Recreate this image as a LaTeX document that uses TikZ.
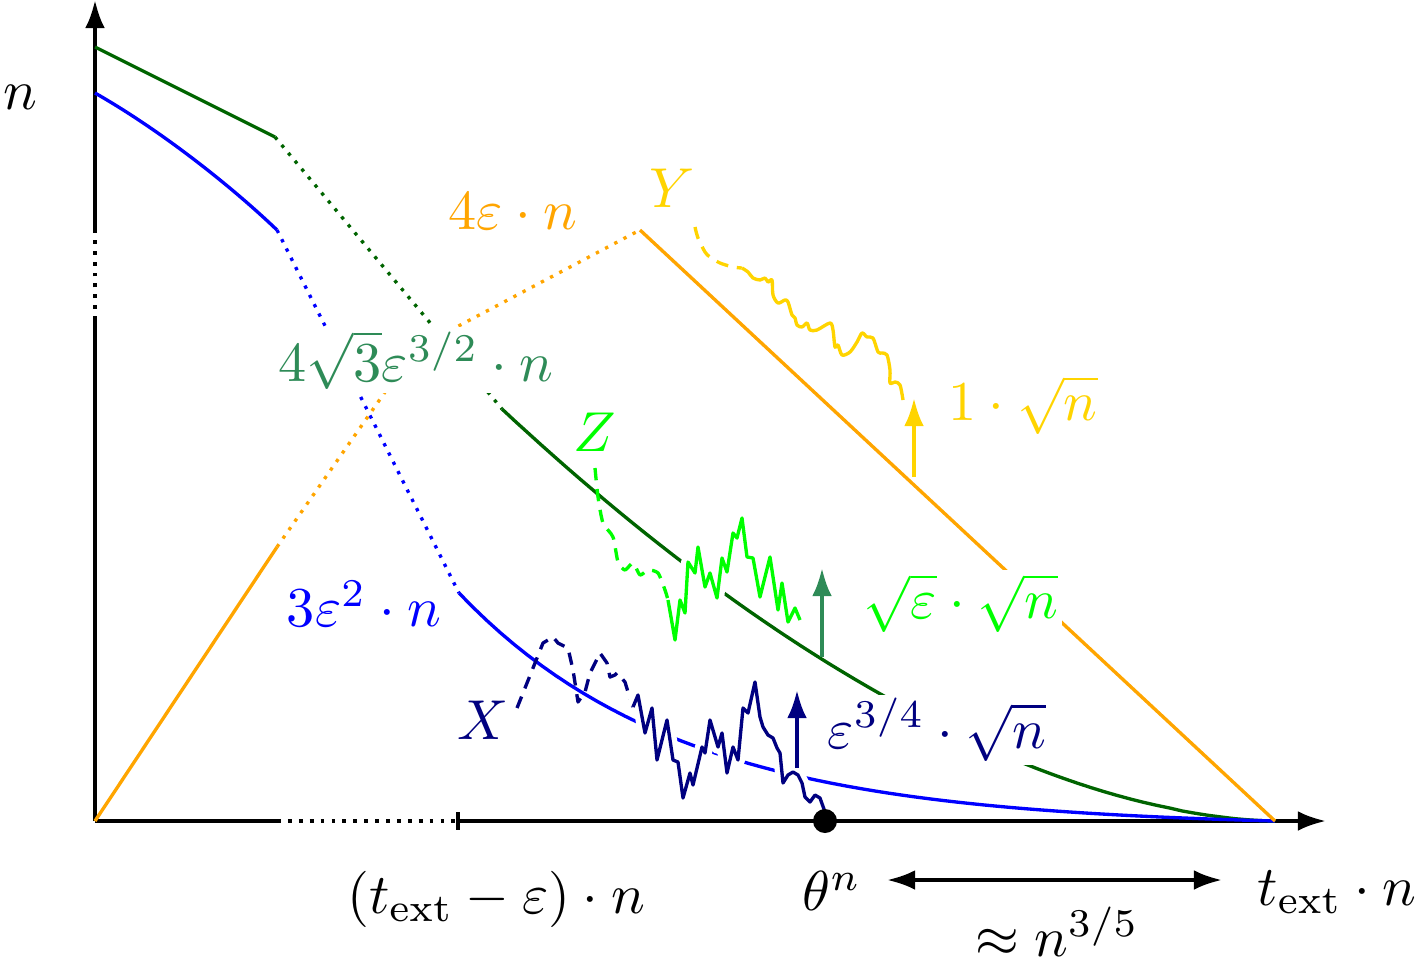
\documentclass[tikz,border=0pt]{standalone}
\usepackage{amsmath}
\usetikzlibrary{arrows.meta}
\definecolor{myorange}{RGB}{255,165,0}
\definecolor{mygold}{RGB}{255,212,0}
\definecolor{mydarkgreen}{RGB}{0,100,0}
\definecolor{myseagreen}{RGB}{46,139,87}
\definecolor{mygreen}{RGB}{0,255,0}
\definecolor{mynavy}{RGB}{0,0,128}
\begin{document}
\begin{tikzpicture}[x=0.01cm,y=-0.01cm,
    lbl/.style={fill=white,inner sep=0.6pt,scale=1.6},
    axlbl/.style={inner sep=0.6pt,scale=1.6},
    ax/.style={line width=1.1pt},
    bound/.style={line width=0.95pt},
    tip/.style={-{Latex[length=8pt,width=5.6pt]}},
    dbltip/.style={{Latex[length=8pt,width=5.6pt]}-{Latex[length=8pt,width=5.6pt]}},
    dsh/.style={line width=0.95pt,dash pattern=on 3.5pt off 2.5pt,line join=round},
    walk/.style={line width=0.95pt,line join=round,
      preaction={draw=white,line width=4pt,line join=round}}]
  \useasboundingbox (0,0) rectangle (1418,963);
  % axes
  \draw[ax] (95,821) -- (277,821);
  \draw[ax,dotted] (277,821) -- (455,821);
  \draw[ax,tip] (458,821) -- (1326,821);
  \draw[ax] (458,812) -- (458,830);
  \draw[ax] (95,821) -- (95,320);
  \draw[ax,dotted] (95,320) -- (95,232);
  \draw[ax,tip] (95,232) -- (95,0);
  % bounds
  \draw[bound,mydarkgreen] (95,47) -- (275,137);
  \draw[bound,mydarkgreen,dotted] (275,137) -- (502,409);
  \draw[bound,mydarkgreen] plot[domain=502:1274,samples=60] (\x,{821-412*((1275-\x)/773)^1.75}) -- (1275,821);
  \draw[bound,blue] (95,93) .. controls (160,130) and (230,185) .. (277,230);
  \draw[bound,blue,dotted] (277,230) -- (459,593);
  \draw[bound,blue] plot[domain=459:1275,samples=60] (\x,{821-228*(exp(-0.0045*(\x-459))-0.0254)/0.9746});
  \draw[bound,myorange] (95,821) -- (277,547);
  \draw[bound,myorange,dotted] (277,547) -- (415,349) -- (640,230);
  \draw[bound,myorange] (640,230) -- (1275,821);
  % walks
  \draw[dsh,mynavy] (517,708) -- (543,643) -- (553,637) -- (558,643) -- (568,648) -- (573,670) -- (578,702) -- (585,692) -- (590,673) -- (600,653) -- (607,663) -- (610,677) -- (615,675) -- (617,673) -- (625,682) -- (628,692) -- (633,707);
  \draw[walk,mynavy] (633,707) -- (638,695) -- (645,733) -- (652,708) -- (657,760) -- (667,720) -- (673,760) -- (678,762) -- (683,798) -- (690,773) -- (693,785) -- (702,747) -- (705,753) -- (710,720) -- (718,747) -- (722,733) -- (727,773) -- (733,747) -- (738,760) -- (743,708) -- (748,713) -- (755,682) -- (760,717) -- (763,727) -- (768,735) -- (773,738) -- (777,748) -- (780,753) -- (783,783) -- (788,775) -- (793,772) -- (798,775) -- (802,783) -- (805,797) -- (810,802) -- (815,795) -- (820,798) -- (825,812) -- (825,821);
  \draw[dsh,mygreen] plot[smooth,tension=0.4] coordinates {(595,468) (598,497) (603,523) (613,537) (618,562) (625,570) (633,563) (640,575) (648,570) (658,573) (665,590) (668,600)};
  \draw[walk,mygreen] (668,600) -- (675,640) -- (680,600) -- (685,613) -- (688,562) -- (695,573) -- (698,547) -- (705,587) -- (710,573) -- (717,598) -- (722,558) -- (727,572) -- (733,533) -- (737,538) -- (742,518) -- (747,557) -- (753,558) -- (760,597) -- (770,557) -- (778,610) -- (782,583) -- (788,622) -- (795,608) -- (800,620);
  \draw[dsh,mygold] plot[smooth,tension=0.5] coordinates {(695,227) (698,238) (705,252) (710,257) (720,263) (733,267) (742,268)};
  \draw[walk,mygold] plot[smooth,tension=0.5] coordinates {(742,268) (748,272) (753,278) (760,280) (765,278) (768,282) (772,280) (773,295) (778,303) (785,300) (788,302) (792,315) (795,318) (797,325) (802,327) (807,323) (810,330) (817,330) (830,323) (833,330) (835,347) (838,345) (842,355) (850,352) (857,342) (862,333) (867,337) (873,338) (878,352) (882,353) (887,355) (890,370) (890,383) (895,382) (900,385) (903,400)};
  % labels
  \node[axlbl] (nlab) at (20,97) {$n$};
  \node[lbl,text=myorange] (ylin) at (513,211) {$4\varepsilon\cdot n$};
  \node[lbl,text=mygold] (ywalk) at (672,188) {$Y$};
  \node[lbl,text=myseagreen] (zlin) at (416,360) {$4\sqrt{3}\varepsilon^{3/2}\cdot n$};
  \node[lbl,text=mygreen] (zwalk) at (595,432) {$Z$};
  \node[lbl,text=mygold] (yfl) at (1023,405) {$1\cdot\sqrt{n}$};
  \node[lbl,text=mygreen] (zfl) at (961,603) {$\sqrt{\varepsilon}\cdot\sqrt{n}$};
  \node[lbl,text=blue] (xlin) at (364,604) {$3\varepsilon^{2}\cdot n$};
  \node[lbl,text=mynavy] (xwalk) at (483,720) {$X$};
  \node[lbl,text=mynavy] (xfl) at (937,730) {$\varepsilon^{3/4}\cdot\sqrt{n}$};
  \node[axlbl] (tstart) at (496,899) {$(t_{\mathrm{ext}}-\varepsilon)\cdot n$};
  \node[axlbl] (theta) at (832,891) {$\theta^{n}$};
  \node[axlbl] (tend) at (1337,892) {$t_{\mathrm{ext}}\cdot n$};
  \node[axlbl] (gap) at (1057,932) {$\approx n^{3/5}$};
  % fluctuations
  \coordinate (ya) at (914,477);
  \coordinate (yb) at (914,398);
  \coordinate (za) at (822,657);
  \coordinate (zb) at (822,568);
  \coordinate (xa) at (797,768);
  \coordinate (xb) at (797,690);
  \draw[ax,mygold,tip] (ya) -- (yb);
  \draw[ax,myseagreen,tip] (za) -- (zb);
  \draw[ax,mynavy,tip] (xa) -- (xb);
  \coordinate (ga) at (887,880);
  \coordinate (gb) at (1222,880);
  \draw[ax,dbltip] (ga) -- (gb);
  \node[circle,fill,inner sep=0pt,minimum size=0.24cm] (hit) at (825,821) {};
\end{tikzpicture}
\end{document}
